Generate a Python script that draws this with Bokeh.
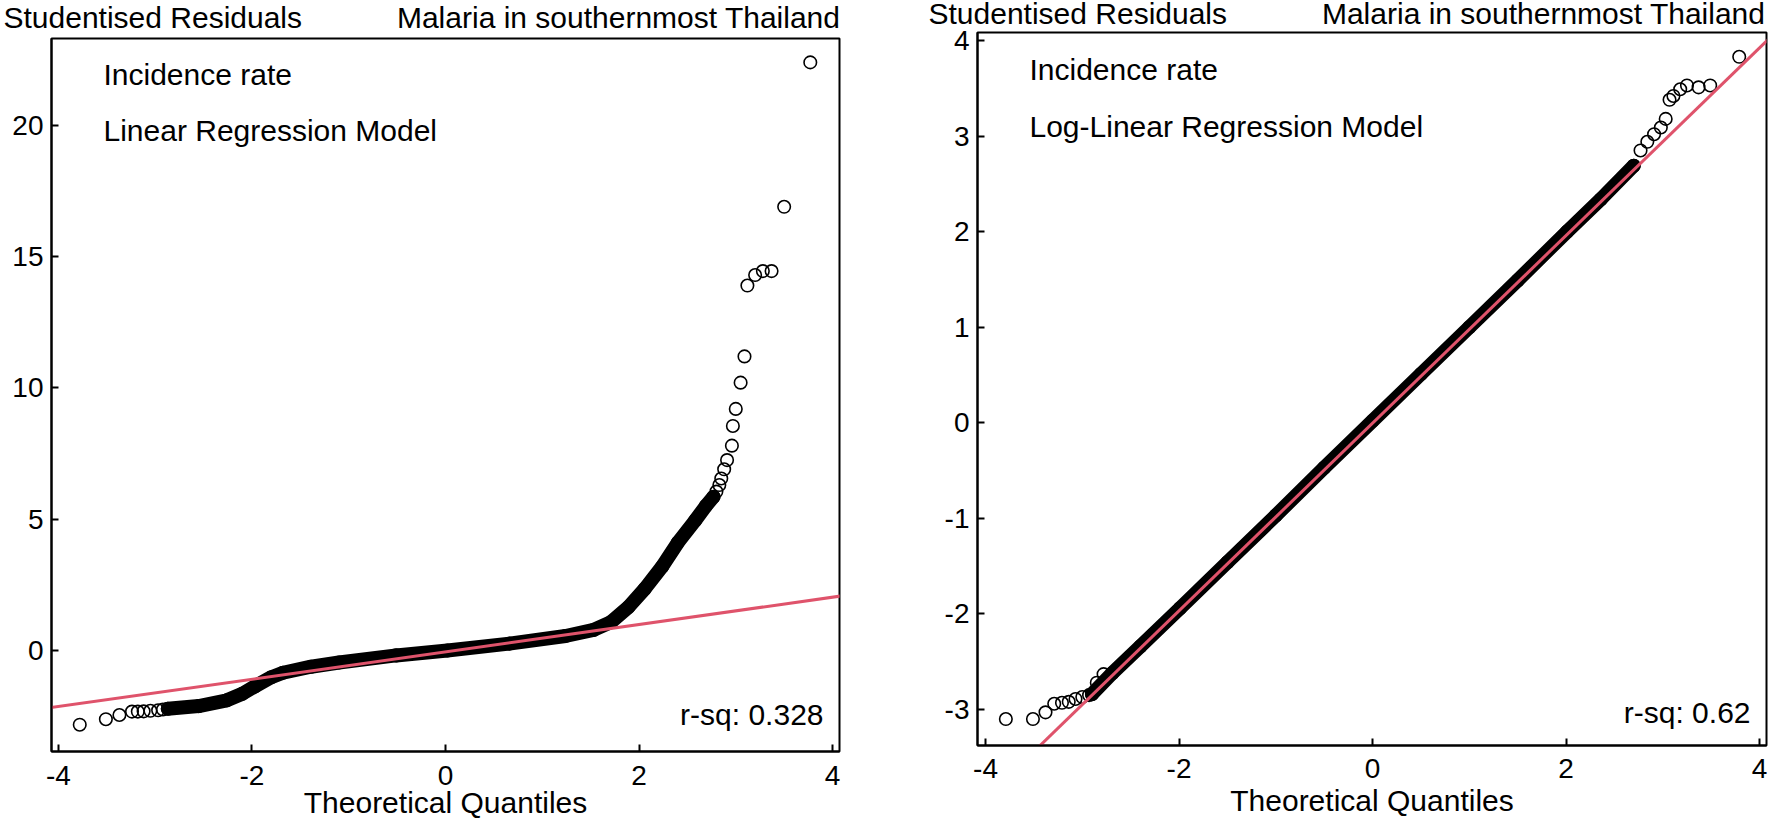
from bokeh.plotting import figure
from bokeh.layouts import row, column
from bokeh.models import Label, FixedTicker, Range1d
from bokeh.embed import file_html
from bokeh.resources import INLINE

# ---------------- data ----------------
# Left panel: Linear Regression Model (theoretical quantile, studentised residual)
lin_band_q = [-2.87, -2.55, -2.26, -2.10, -1.97, -1.80, -1.68, -1.39, -1.10, -0.51, 0.02, 0.66,
              1.24, 1.53, 1.71, 1.89, 2.06, 2.24, 2.40, 2.58, 2.69, 2.77]
lin_band_r = [-2.22, -2.12, -1.90, -1.65, -1.37, -1.02, -0.85, -0.62, -0.46, -0.19, 0.00, 0.26,
              0.55, 0.78, 1.08, 1.65, 2.35, 3.20, 4.10, 4.95, 5.50, 5.85]
lin_pts_q = [-3.78, -3.51, -3.37, -3.24, -3.18, -3.12, -3.05, -2.97, -2.92,
             2.80, 2.83, 2.85, 2.88, 2.91, 2.96, 2.97, 3.00, 3.05, 3.09,
             3.12, 3.20, 3.28, 3.37, 3.50, 3.77]
lin_pts_r = [-2.83, -2.62, -2.46, -2.33, -2.33, -2.32, -2.30, -2.28, -2.25,
             6.05, 6.30, 6.55, 6.90, 7.25, 7.80, 8.55, 9.20, 10.20, 11.20,
             13.90, 14.30, 14.45, 14.45, 16.90, 22.40]
lin_line_q = [-4.10, 4.10]
lin_line_r = [-2.19, 2.08]
lin_yticks = [0, 5, 10, 15, 20]

# Right panel: Log-Linear Regression Model
log_band_q = [-2.90, -2.69, -2.40, -1.99, -1.50, -1.00, -0.50, 0.00, 0.50, 1.00, 1.50, 2.01, 2.36, 2.70]
log_band_r = [-2.84, -2.62, -2.34, -1.94, -1.46, -0.97, -0.47, 0.02, 0.51, 1.00, 1.49, 2.00, 2.34, 2.69]
log_pts_q = [-3.79, -3.51, -3.38, -3.29, -3.21, -3.14, -3.07, -3.00, -2.93, -2.85, -2.78,
             2.77, 2.84, 2.91, 2.98, 3.03, 3.07, 3.11, 3.18, 3.25, 3.37, 3.49, 3.79]
log_pts_r = [-3.10, -3.10, -3.03, -2.94, -2.93, -2.92, -2.89, -2.87, -2.85, -2.72, -2.63,
             2.85, 2.94, 3.02, 3.09, 3.18, 3.38, 3.42, 3.49, 3.53, 3.51, 3.53, 3.83]
log_line_q = [-3.50, 4.15]
log_line_r = [-3.44, 4.07]
log_yticks = [-3, -2, -1, 0, 1, 2, 3, 4]

xticks = [-4, -2, 0, 2, 4]
titles = ("Studentised Residuals", "Malaria in southernmost Thailand")
models = ("Linear Regression Model", "Log-Linear Regression Model")
rsq = ("r-sq: 0.328", "r-sq: 0.62")
xlabel = "Theoretical Quantiles"

FONT = "Liberation Sans"
RED = "#DF536B"
TXT = "30px"


def label(p, x, y, text, align="left"):
    p.add_layout(Label(x=x, y=y, x_units="screen", y_units="screen", text=text,
                       text_font=FONT, text_font_size=TXT, text_color="black",
                       text_align=align, text_baseline="middle"))


def header(width, height, left_x, right_x, y):
    h = figure(width=width, height=height, x_range=Range1d(0, 1), y_range=Range1d(0, 1),
               min_border_left=0, min_border_right=0, min_border_top=0, min_border_bottom=0,
               x_axis_location=None, y_axis_location=None,
               output_backend="svg", toolbar_location=None, tools="")
    h.grid.visible = False
    h.outline_line_color = None
    h.background_fill_color = "white"
    h.border_fill_color = "white"
    label(h, left_x, y, titles[0])
    label(h, right_x, y, titles[1], align="right")
    return h


def panel(width, height, bl, br, bt, bb, xr, yr, yticks, band_q, band_r, pts_q, pts_r,
          line_q, line_r, model, r2, ys, tick_so, lab_so):
    p = figure(width=width, height=height, x_range=Range1d(*xr), y_range=Range1d(*yr),
               min_border_left=bl, min_border_right=br, min_border_top=bt, min_border_bottom=bb,
               output_backend="svg", toolbar_location=None, tools="")
    p.grid.visible = False
    p.outline_line_color = "black"
    p.outline_line_width = 2
    p.outline_line_alpha = 1
    p.background_fill_color = "white"
    p.border_fill_color = "white"
    p.xaxis.ticker = FixedTicker(ticks=xticks)
    p.yaxis.ticker = FixedTicker(ticks=yticks)
    p.xaxis.major_label_overrides = {t: str(t) for t in xticks}
    p.yaxis.major_label_overrides = {t: str(t) for t in yticks}
    for ax in (p.xaxis[0], p.yaxis[0]):
        ax.axis_line_color = "black"
        ax.axis_line_width = 2
        ax.major_tick_in = 7
        ax.major_tick_out = 0
        ax.major_tick_line_width = 2
        ax.major_tick_line_color = "black"
        ax.minor_tick_line_color = None
        ax.major_label_text_font = FONT
        ax.major_label_text_font_size = "28px"
        ax.major_label_text_color = "black"
    p.xaxis.major_label_standoff = tick_so
    p.yaxis.major_label_standoff = 8
    p.xaxis.axis_label = xlabel
    p.xaxis.axis_label_text_font = FONT
    p.xaxis.axis_label_text_font_size = TXT
    p.xaxis.axis_label_text_font_style = "normal"
    p.xaxis.axis_label_text_color = "black"
    p.xaxis.axis_label_standoff = lab_so

    # dense band of overlapping points
    p.line(x=band_q, y=band_r, line_color="black", line_width=14,
           line_join="round", line_cap="round")
    p.scatter(x=band_q, y=band_r, marker="circle", size=12.5, fill_color=None,
              line_color="black", line_width=1.6)
    p.scatter(x=pts_q, y=pts_r, marker="circle", size=12.5, fill_color=None,
              line_color="black", line_width=1.6)
    p.line(x=line_q, y=line_r, line_color=RED, line_width=3)

    fw = width - bl - br
    label(p, 52, ys[0], "Incidence rate")
    label(p, 52, ys[1], model)
    label(p, fw - 16, ys[2], r2, align="right")
    return p


h1 = header(880, 34, 3, 840, 17)
p1 = panel(880, 793, 51, 41, 4, 76, (-4.072, 4.072), (-3.85, 23.31), lin_yticks,
           lin_band_q, lin_band_r, lin_pts_q, lin_pts_r, lin_line_q, lin_line_r,
           models[0], rsq[0], (677, 621, 37), 14, -2)
h2 = header(890, 28, 48, 885, 15.5)
p2 = panel(890, 799, 97, 4, 4, 82, (-4.083, 4.072), (-3.377, 4.084), log_yticks,
           log_band_q, log_band_r, log_pts_q, log_pts_r, log_line_q, log_line_r,
           models[1], rsq[1], (676, 619, 33), 13, 3)

layout = row(column(row(h1), p1), column(row(h2), p2))
open("out.html", "w").write(file_html(layout, INLINE))
